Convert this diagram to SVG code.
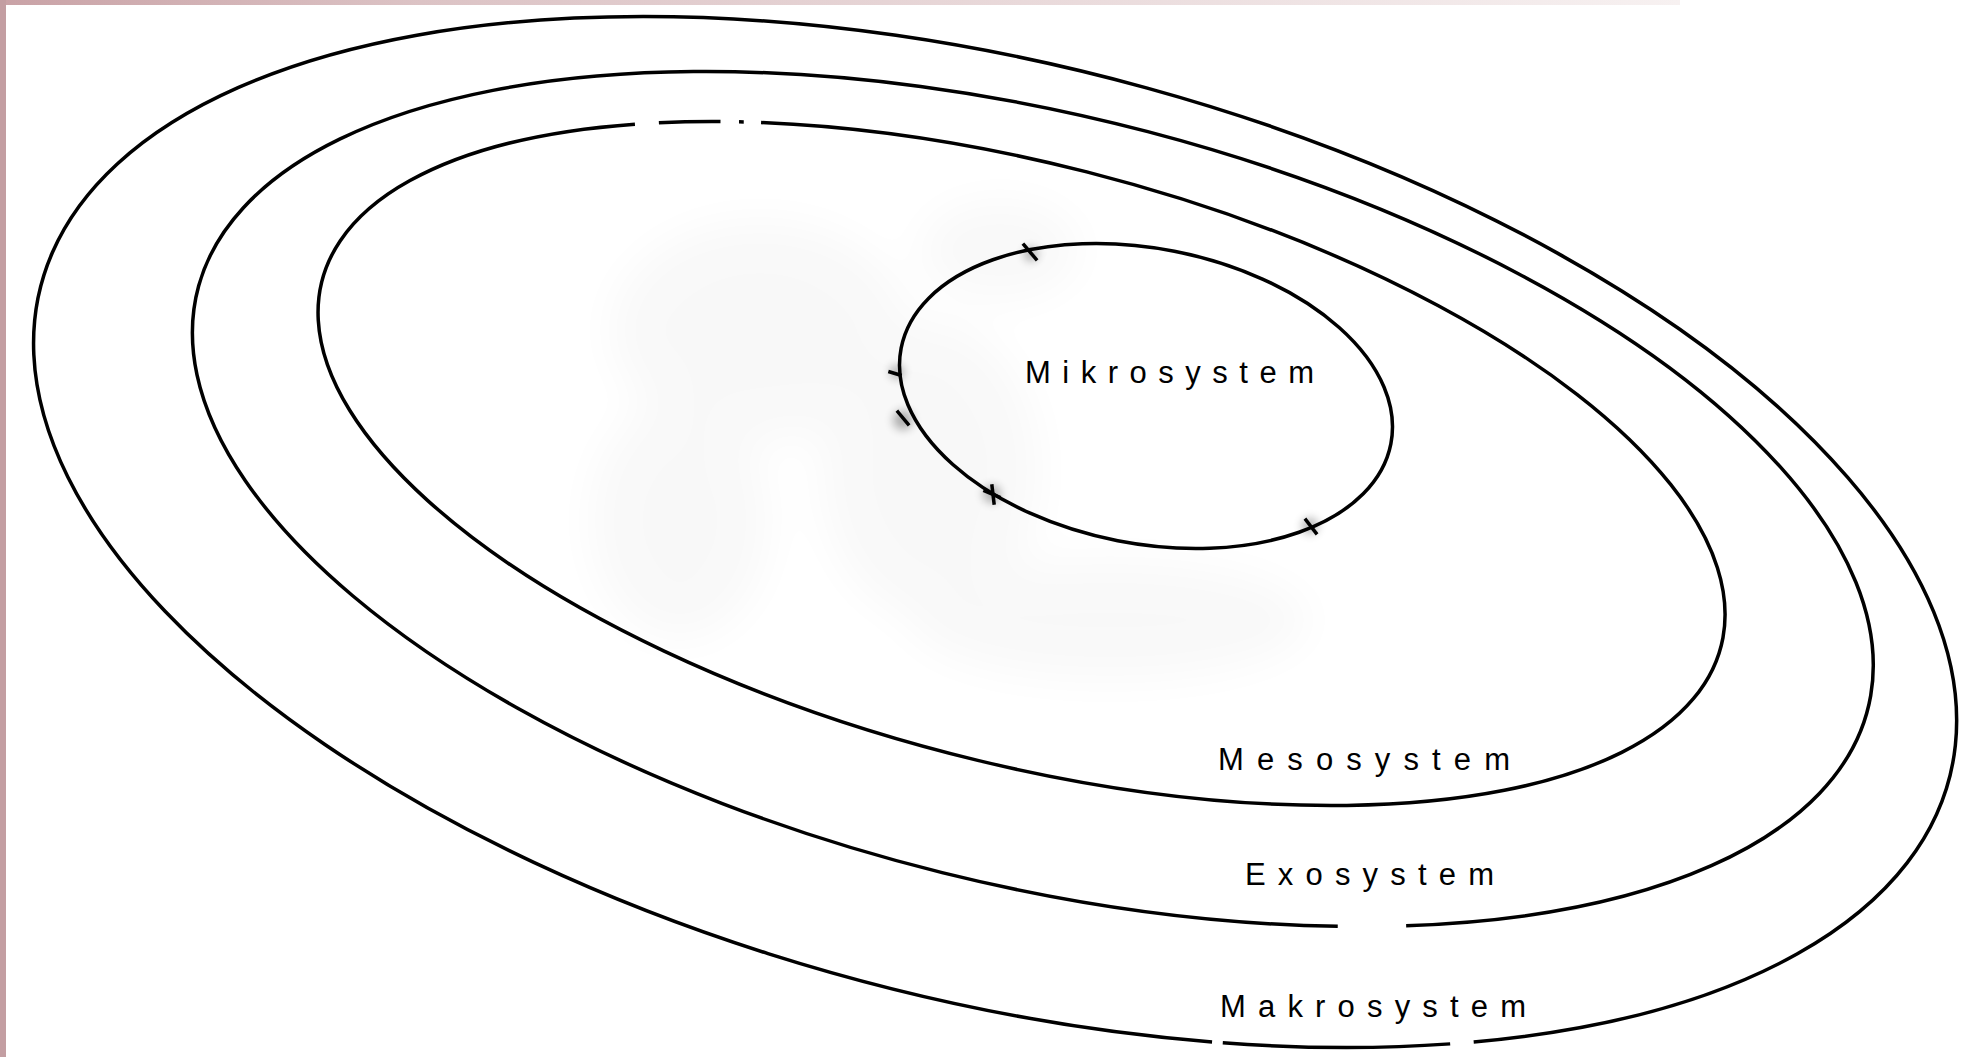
<svg xmlns="http://www.w3.org/2000/svg" width="1972" height="1057" viewBox="0 0 1972 1057">
  <defs>
    <style>
      .ring { fill: none; stroke: #000; stroke-width: 3.5; }
      .tick { stroke: #000; stroke-width: 3.5; stroke-linecap: square; }
      .lbl { font-family: "Liberation Sans", Arial, sans-serif; font-size: 31px; fill: #000; }
    </style>
    <linearGradient id="topEdge" x1="0" y1="0" x2="1" y2="0">
      <stop offset="0" stop-color="#c9a2a6"/>
      <stop offset="0.25" stop-color="#dcc3c5"/>
      <stop offset="1" stop-color="#f7f1f1"/>
    </linearGradient>
    <filter id="soft" x="-50%" y="-50%" width="200%" height="200%">
      <feGaussianBlur stdDeviation="22"/>
    </filter>
    <filter id="softSmall" x="-100%" y="-100%" width="300%" height="300%">
      <feGaussianBlur stdDeviation="5"/>
    </filter>
  </defs>

  <rect x="0" y="0" width="1972" height="1057" fill="#ffffff"/>
  <!-- border strips -->
  <rect x="0" y="0" width="1680" height="5" fill="url(#topEdge)"/>
  <rect x="0" y="0" width="6" height="1057" fill="#c39ea2"/>

  <!-- faint ghost background -->
  <g id="ghost" filter="url(#soft)" fill="#000" opacity="0.025">
    <ellipse cx="760" cy="330" rx="150" ry="110"/>
    <ellipse cx="930" cy="470" rx="110" ry="150"/>
    <ellipse cx="1110" cy="620" rx="200" ry="60"/>
    <ellipse cx="680" cy="520" rx="90" ry="120"/>
    <ellipse cx="1000" cy="250" rx="80" ry="50"/>
  </g>

  <g id="connectors"></g>

  <g id="makrosystem">
    <g transform="translate(995 532) rotate(14.42)">
      <path class="ring" d="M 337.2 439.8 A 985.5 468.1 0 1 1 590.6 374.7 M 568.3 382.4 A 985.5 468.1 0 0 1 347.8 438.0"/>
    </g>
    <text class="lbl" x="1220" y="1017" textLength="306" lengthAdjust="spacing">Makrosystem</text>
  </g>

  <g id="exosystem">
    <g transform="translate(1033.5 499) rotate(14.05)">
      <path class="ring" d="M 398.9 340.7 A 861 384.4 0 1 1 465.1 323.5"/>
    </g>
    <text class="lbl" x="1245" y="885" textLength="249" lengthAdjust="spacing">Exosystem</text>
  </g>

  <g id="mesosystem">
    <g transform="translate(1021.5 463.5) rotate(14.67)">
      <path class="ring" d="M -437.1 -237.8 A 723 298.6 0 0 1 -377.8 -254.6 M -359.8 -259.0 A 723 298.6 0 0 1 -355.2 -260.1 M -338.3 -263.9 A 723 298.6 0 1 1 -459.9 -230.4"/>
    </g>
    <text class="lbl" x="1218" y="770" textLength="292" lengthAdjust="spacing">Mesosystem</text>
  </g>

  <g id="mikrosystem">
    <ellipse class="ring" cx="1146" cy="396" rx="249.5" ry="147.5" transform="rotate(11.07 1146 396)"/>
    <g fill="#000" opacity="0.3" filter="url(#softSmall)">
      <circle cx="1031" cy="254" r="7"/>
      <circle cx="897" cy="372" r="7"/>
      <circle cx="903" cy="420" r="10"/>
      <circle cx="992" cy="494" r="9"/>
      <circle cx="1310" cy="526" r="8"/>
    </g>
    <line class="tick" x1="1024" y1="245" x2="1036" y2="259"/>
    <line class="tick" x1="890" y1="372" x2="900" y2="375"/>
    <line class="tick" x1="898" y1="412" x2="908" y2="424"/>
    <line class="tick" x1="985" y1="491" x2="999" y2="497"/>
    <line class="tick" x1="992" y1="486" x2="994" y2="503"/>
    <line class="tick" x1="1306" y1="520" x2="1316" y2="533"/>
    <text class="lbl" x="1025" y="383" textLength="289" lengthAdjust="spacing">Mikrosystem</text>
  </g>
</svg>
